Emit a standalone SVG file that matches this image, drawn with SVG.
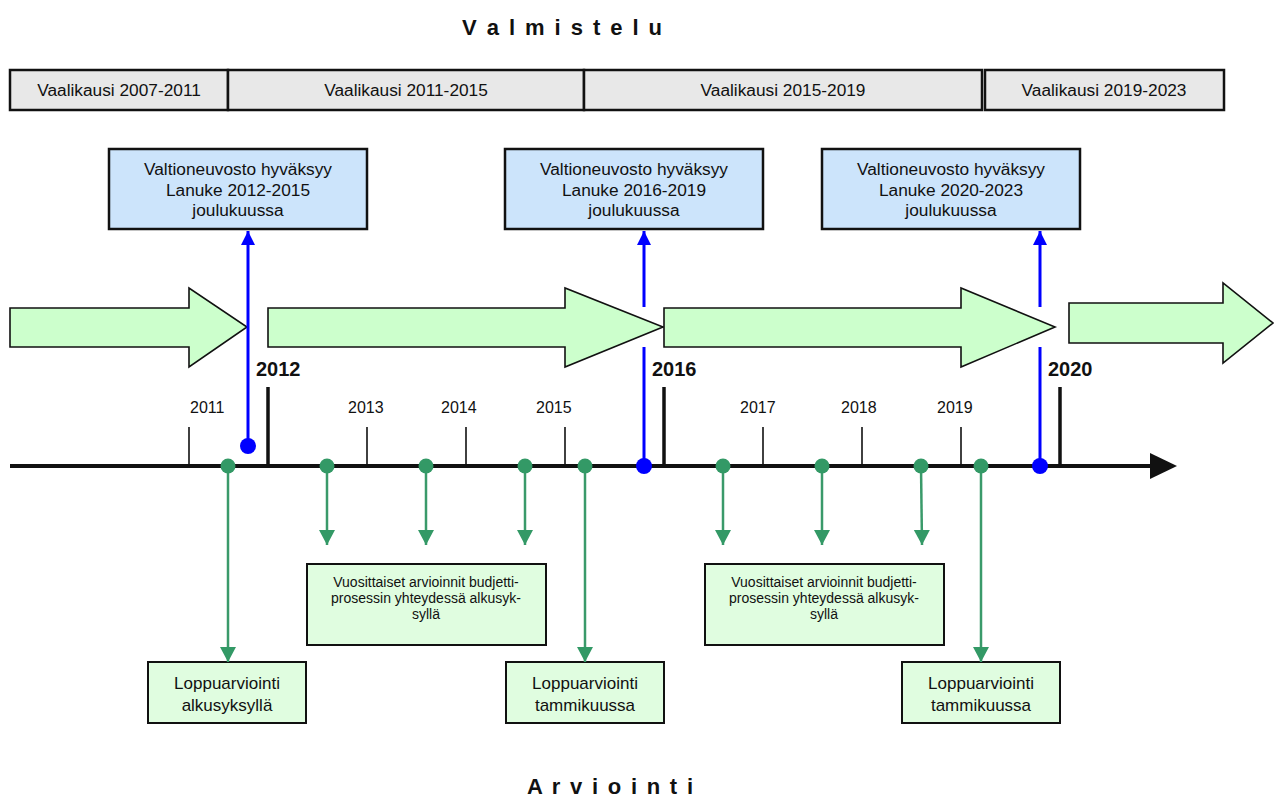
<svg xmlns="http://www.w3.org/2000/svg" width="1279" height="798" viewBox="0 0 1279 798">
<defs>
<style>
text{font-family:"Liberation Sans",Arial,sans-serif;fill:#111;}
.title{font-size:22px;font-weight:bold;text-anchor:middle;}
.vk rect{fill:#e8e8e8;stroke:#111;stroke-width:2.5;}
.vk text{font-size:17.3px;text-anchor:middle;}
.blue rect{fill:#cce4fb;stroke:#111;stroke-width:2.5;}
.blue text{font-size:17.3px;text-anchor:middle;}
.gbox rect{fill:#e0fde0;stroke:#111;stroke-width:2;}
.gsmall{font-size:14px;text-anchor:middle;}
.gbig{font-size:17px;text-anchor:middle;}
.arrow{fill:#ccffcc;stroke:#111;stroke-width:1.6;stroke-linejoin:miter;}
.yr{font-size:16px;}
.yrb{font-size:20px;font-weight:bold;}
.tick{stroke:#111;stroke-width:1.6;}
.major{stroke:#111;stroke-width:3.5;}
.bl{stroke:#0000ff;stroke-width:3;fill:none;marker-end:url(#mb);}
.gl{stroke:#3a9a6a;stroke-width:2.5;fill:none;marker-end:url(#mg);}
.bdot{fill:#0000ff;}
.gdot{fill:#339966;}
</style>
<marker id="mb" markerUnits="userSpaceOnUse" markerWidth="16" markerHeight="16" viewBox="0 0 16 16" refX="15" refY="8" orient="auto">
<path d="M1,1 L15,8 L1,15 Z" fill="#0000ff"/>
</marker>
<marker id="mg" markerUnits="userSpaceOnUse" markerWidth="17" markerHeight="17" viewBox="0 0 17 17" refX="16" refY="8.5" orient="auto">
<path d="M1,0.5 L16,8.5 L1,16.5 Z" fill="#339966"/>
</marker>
</defs>
<rect width="1279" height="798" fill="#ffffff"/>

<g id="title-valmistelu"><text class="title" x="562" y="35" textLength="200" lengthAdjust="spacing">V a l m i s t e l u</text></g>
<g id="title-arviointi"><text class="title" x="610" y="794" textLength="166" lengthAdjust="spacing">A r v i o i n t i</text></g>

<g id="vaalikausi-2007-2011" class="vk"><rect x="10" y="70" width="218" height="40"/><text x="119" y="96">Vaalikausi 2007-2011</text></g>
<g id="vaalikausi-2011-2015" class="vk"><rect x="228" y="70" width="356" height="40"/><text x="406" y="96">Vaalikausi 2011-2015</text></g>
<g id="vaalikausi-2015-2019" class="vk"><rect x="584" y="70" width="398" height="40"/><text x="783" y="96">Vaalikausi 2015-2019</text></g>
<g id="vaalikausi-2019-2023" class="vk"><rect x="985" y="70" width="239" height="40"/><text x="1104" y="96">Vaalikausi 2019-2023</text></g>

<g id="arrow-1"><path class="arrow" d="M10,308 H189 V288 L247,327 L189,367 V347 H10 Z"/></g>
<g id="arrow-2"><path class="arrow" d="M268,308 H565 V288 L663,327 L565,367 V347 H268 Z"/></g>
<g id="arrow-3"><path class="arrow" d="M664,308 H961 V288 L1055,327 L961,367 V347 H664 Z"/></g>
<g id="arrow-4"><path class="arrow" d="M1069,303 H1223 V283 L1273,323 L1223,363 V343 H1069 Z"/></g>

<g id="timeline">
<line x1="10" y1="466" x2="1152" y2="466" stroke="#111" stroke-width="4"/>
<path d="M1150,453 L1177,466 L1150,479 Z" fill="#111"/>
<line class="tick" x1="189" y1="427" x2="189" y2="466"/>
<line class="tick" x1="367" y1="427" x2="367" y2="466"/>
<line class="tick" x1="466" y1="427" x2="466" y2="466"/>
<line class="tick" x1="565" y1="427" x2="565" y2="466"/>
<line class="tick" x1="763" y1="427" x2="763" y2="466"/>
<line class="tick" x1="862" y1="427" x2="862" y2="466"/>
<line class="tick" x1="961" y1="427" x2="961" y2="466"/>
<line class="major" x1="268" y1="387" x2="268" y2="466"/>
<line class="major" x1="664" y1="387" x2="664" y2="466"/>
<line class="major" x1="1060" y1="387" x2="1060" y2="466"/>
<text class="yr" x="190" y="413">2011</text>
<text class="yr" x="348" y="413">2013</text>
<text class="yr" x="441" y="413">2014</text>
<text class="yr" x="536" y="413">2015</text>
<text class="yr" x="740" y="413">2017</text>
<text class="yr" x="841" y="413">2018</text>
<text class="yr" x="937" y="413">2019</text>
<text class="yrb" x="256" y="376">2012</text>
<text class="yrb" x="652" y="376">2016</text>
<text class="yrb" x="1048" y="376">2020</text>
</g>

<g id="lanuke-2012-2015" class="blue"><rect x="109" y="149" width="258" height="80"/>
<text x="238" y="175">Valtioneuvosto hyväksyy</text><text x="238" y="196">Lanuke 2012-2015</text><text x="238" y="216">joulukuussa</text></g>
<g id="lanuke-2016-2019" class="blue"><rect x="505" y="149" width="258" height="80"/>
<text x="634" y="175">Valtioneuvosto hyväksyy</text><text x="634" y="196">Lanuke 2016-2019</text><text x="634" y="216">joulukuussa</text></g>
<g id="lanuke-2020-2023" class="blue"><rect x="822" y="149" width="258" height="80"/>
<text x="951" y="175">Valtioneuvosto hyväksyy</text><text x="951" y="196">Lanuke 2020-2023</text><text x="951" y="216">joulukuussa</text></g>

<g id="vuosittaiset-1" class="gbox"><rect x="307" y="564" width="239" height="81"/>
<text class="gsmall" x="426" y="587">Vuosittaiset arvioinnit budjetti-</text><text class="gsmall" x="426" y="603">prosessin yhteydessä alkusyk-</text><text class="gsmall" x="426" y="619">syllä</text></g>
<g id="vuosittaiset-2" class="gbox"><rect x="705" y="564" width="239" height="81"/>
<text class="gsmall" x="824" y="587">Vuosittaiset arvioinnit budjetti-</text><text class="gsmall" x="824" y="603">prosessin yhteydessä alkusyk-</text><text class="gsmall" x="824" y="619">syllä</text></g>
<g id="loppuarviointi-alkusyksy" class="gbox"><rect x="148" y="662" width="158" height="61"/>
<text class="gbig" x="227" y="689">Loppuarviointi</text><text class="gbig" x="227" y="711">alkusyksyllä</text></g>
<g id="loppuarviointi-tammikuu-1" class="gbox"><rect x="506" y="662" width="158" height="61"/>
<text class="gbig" x="585" y="689">Loppuarviointi</text><text class="gbig" x="585" y="711">tammikuussa</text></g>
<g id="loppuarviointi-tammikuu-2" class="gbox"><rect x="902" y="662" width="158" height="61"/>
<text class="gbig" x="981" y="689">Loppuarviointi</text><text class="gbig" x="981" y="711">tammikuussa</text></g>

<g id="connectors">
<path class="bl" d="M248,446 V231"/>
<path class="bl" d="M644,466 V347 M644,307 V231"/>
<path class="bl" d="M1040,466 V347 M1040,307 V231"/>
<circle class="bdot" cx="248" cy="446" r="8"/>
<circle class="bdot" cx="644" cy="466" r="8"/>
<circle class="bdot" cx="1040" cy="466" r="8"/>
<path class="gl" d="M228,466 V662"/>
<path class="gl" d="M327,466 V545"/>
<path class="gl" d="M426,466 V545"/>
<path class="gl" d="M525,466 V545"/>
<path class="gl" d="M585,466 V662"/>
<path class="gl" d="M723,466 V545"/>
<path class="gl" d="M822,466 V545"/>
<path class="gl" d="M921,466 L922,545"/>
<path class="gl" d="M981,466 V662"/>
<circle class="gdot" cx="228" cy="466" r="7.5"/>
<circle class="gdot" cx="327" cy="466" r="7.5"/>
<circle class="gdot" cx="426" cy="466" r="7.5"/>
<circle class="gdot" cx="525" cy="466" r="7.5"/>
<circle class="gdot" cx="585" cy="466" r="7.5"/>
<circle class="gdot" cx="723" cy="466" r="7.5"/>
<circle class="gdot" cx="822" cy="466" r="7.5"/>
<circle class="gdot" cx="921" cy="466" r="7.5"/>
<circle class="gdot" cx="981" cy="466" r="7.5"/>
</g>
</svg>
